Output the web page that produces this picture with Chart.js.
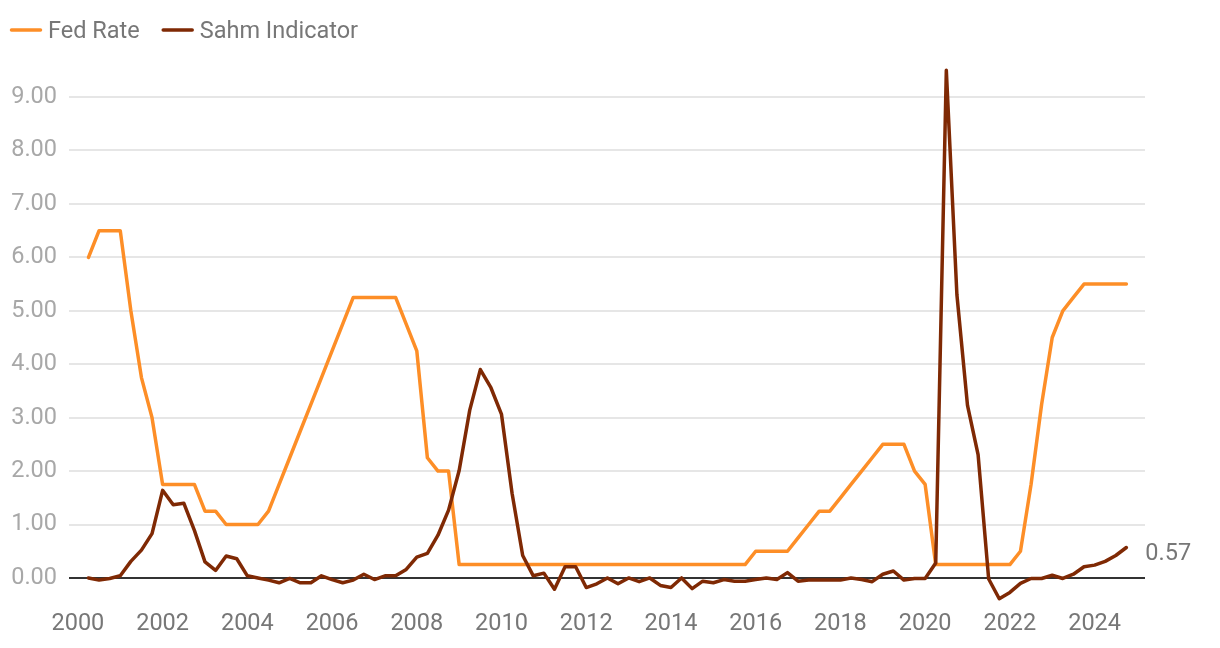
<!DOCTYPE html>
<html><head><meta charset="utf-8">
<script src="https://cdn.jsdelivr.net/npm/chart.js@4.4.1/dist/chart.umd.min.js"></script>
<style>html,body{margin:0;padding:0;background:#fff;}#wrap{width:1220px;height:648px;}</style>
</head><body><div id="wrap"><canvas id="c" width="1220" height="648"></canvas></div>
<script>
// ---- data ----
const seriesNames = ['Fed Rate', 'Sahm Indicator'];
const quarters = [];
for (let y = 2000; y <= 2024; y++) for (let q = 1; q <= 4; q++) { if (y === 2024 && q === 4) break; quarters.push(y + ' Q' + q); }
const fedRate = [
  6.00, 6.50, 6.50, 6.50, 5.00, 3.75, 3.00, 1.75, 1.75, 1.75,
  1.75, 1.25, 1.25, 1.00, 1.00, 1.00, 1.00, 1.25, 1.75, 2.25,
  2.75, 3.25, 3.75, 4.25, 4.75, 5.25, 5.25, 5.25, 5.25, 5.25,
  4.75, 4.25, 2.25, 2.00, 2.00, 0.25, 0.25, 0.25, 0.25, 0.25,
  0.25, 0.25, 0.25, 0.25, 0.25, 0.25, 0.25, 0.25, 0.25, 0.25,
  0.25, 0.25, 0.25, 0.25, 0.25, 0.25, 0.25, 0.25, 0.25, 0.25,
  0.25, 0.25, 0.25, 0.50, 0.50, 0.50, 0.50, 0.75, 1.00, 1.25,
  1.25, 1.50, 1.75, 2.00, 2.25, 2.50, 2.50, 2.50, 2.00, 1.75,
  0.25, 0.25, 0.25, 0.25, 0.25, 0.25, 0.25, 0.25, 0.50, 1.75,
  3.25, 4.50, 5.00, 5.25, 5.50, 5.50, 5.50, 5.50, 5.50
];
const sahm = [
  0.00, -0.04, -0.01, 0.04, 0.31, 0.52, 0.83, 1.64, 1.37, 1.40,
  0.89, 0.30, 0.14, 0.41, 0.36, 0.04, 0.00, -0.04, -0.09, -0.01,
  -0.09, -0.09, 0.04, -0.03, -0.09, -0.04, 0.07, -0.03, 0.04, 0.04,
  0.16, 0.39, 0.46, 0.80, 1.27, 2.01, 3.14, 3.90, 3.56, 3.06,
  1.58, 0.42, 0.04, 0.09, -0.21, 0.21, 0.21, -0.18, -0.11, 0.00,
  -0.11, 0.00, -0.07, 0.00, -0.14, -0.18, 0.00, -0.20, -0.06, -0.09,
  -0.03, -0.06, -0.06, -0.03, 0.00, -0.03, 0.10, -0.06, -0.04, -0.04,
  -0.04, -0.04, 0.00, -0.03, -0.07, 0.07, 0.13, -0.04, -0.01, -0.01,
  0.28, 9.50, 5.30, 3.23, 2.31, -0.02, -0.39, -0.27, -0.10, -0.01,
  -0.01, 0.05, -0.01, 0.07, 0.21, 0.24, 0.31, 0.42, 0.57
];
const yTicks = [0, 1, 2, 3, 4, 5, 6, 7, 8, 9];
const xTicks = [2000, 2002, 2004, 2006, 2008, 2010, 2012, 2014, 2016, 2018, 2020, 2022, 2024];

// ---- styles ----
const ORANGE = '#fd8e27';
const BROWN = '#7f2904';
const FONT = 'Roboto';
const FSIZE = 23.5;

function qx(label) { const p = label.split(' Q'); return Number(p[0]) + Number(p[1]) * 0.25; }
const toPts = arr => quarters.map((q, i) => ({ x: qx(q), y: arr[i] }));

const legendPlugin = {
  id: 'customLegend',
  afterDraw(chart) {
    const ctx = chart.ctx;
    ctx.save();
    ctx.font = FSIZE + 'px ' + FONT;
    ctx.textBaseline = 'alphabetic';
    const colors = [ORANGE, BROWN];
    let x = 10;
    seriesNames.forEach((name, i) => {
      ctx.strokeStyle = colors[i];
      ctx.lineWidth = 3.5;
      ctx.lineCap = 'round';
      ctx.beginPath(); ctx.moveTo(x + 1.5, 30); ctx.lineTo(x + 30.5, 30); ctx.stroke();
      ctx.fillStyle = '#777';
      ctx.fillText(name, x + 38, 37.8);
      x += 38 + ctx.measureText(name).width + 22;
    });
    ctx.restore();
  }
};

const endLabelPlugin = {
  id: 'endLabel',
  afterDatasetsDraw(chart) {
    const meta = chart.getDatasetMeta(1);
    const pt = meta.data[meta.data.length - 1];
    const ctx = chart.ctx;
    ctx.save();
    ctx.font = FSIZE + 'px ' + FONT;
    ctx.fillStyle = '#777';
    ctx.textBaseline = 'alphabetic';
    ctx.fillText(sahm[sahm.length - 1].toFixed(2), pt.x + 19, pt.y + 12.8);
    ctx.restore();
  }
};

new Chart(document.getElementById('c').getContext('2d'), {
  type: 'line',
  data: {
    datasets: [
      { label: seriesNames[0], data: toPts(fedRate), borderColor: ORANGE, backgroundColor: ORANGE, borderWidth: 3.5, pointRadius: 0, tension: 0, order: 1, borderCapStyle: 'round', borderJoinStyle: 'round' },
      { label: seriesNames[1], data: toPts(sahm), borderColor: BROWN, backgroundColor: BROWN, borderWidth: 3.5, pointRadius: 0, tension: 0, order: 0, borderCapStyle: 'round', borderJoinStyle: 'round' }
    ]
  },
  options: {
    responsive: false,
    animation: false,
    devicePixelRatio: 1,
    layout: { padding: { left: 0, right: 75, top: 65, bottom: 0 } },
    plugins: { legend: { display: false }, tooltip: { enabled: false } },
    scales: {
      x: {
        type: 'linear', min: 1999.79, max: 2025.19,
        afterBuildTicks: a => { a.ticks = xTicks.map(v => ({ value: v })); },
        afterFit: a => { a.height = 46; },
        ticks: { callback: v => String(v), color: '#777', font: { family: FONT, size: FSIZE }, padding: 8, maxRotation: 0, autoSkip: false },
        grid: { display: false, drawTicks: false },
        border: { display: false }
      },
      y: {
        min: -0.45, max: 9.6,
        afterBuildTicks: a => { a.ticks = yTicks.map(v => ({ value: v })); },
        afterFit: a => { a.width = 69; },
        ticks: { callback: v => Number(v).toFixed(2), color: '#a8a8a8', font: { family: FONT, size: FSIZE }, padding: 12 },
        grid: {
          drawTicks: false,
          color: c => (c.tick && c.tick.value === 0) ? '#333333' : '#e6e6e6',
          lineWidth: 2
        },
        border: { display: false }
      }
    }
  },
  plugins: [legendPlugin, endLabelPlugin]
});
</script></body></html>
